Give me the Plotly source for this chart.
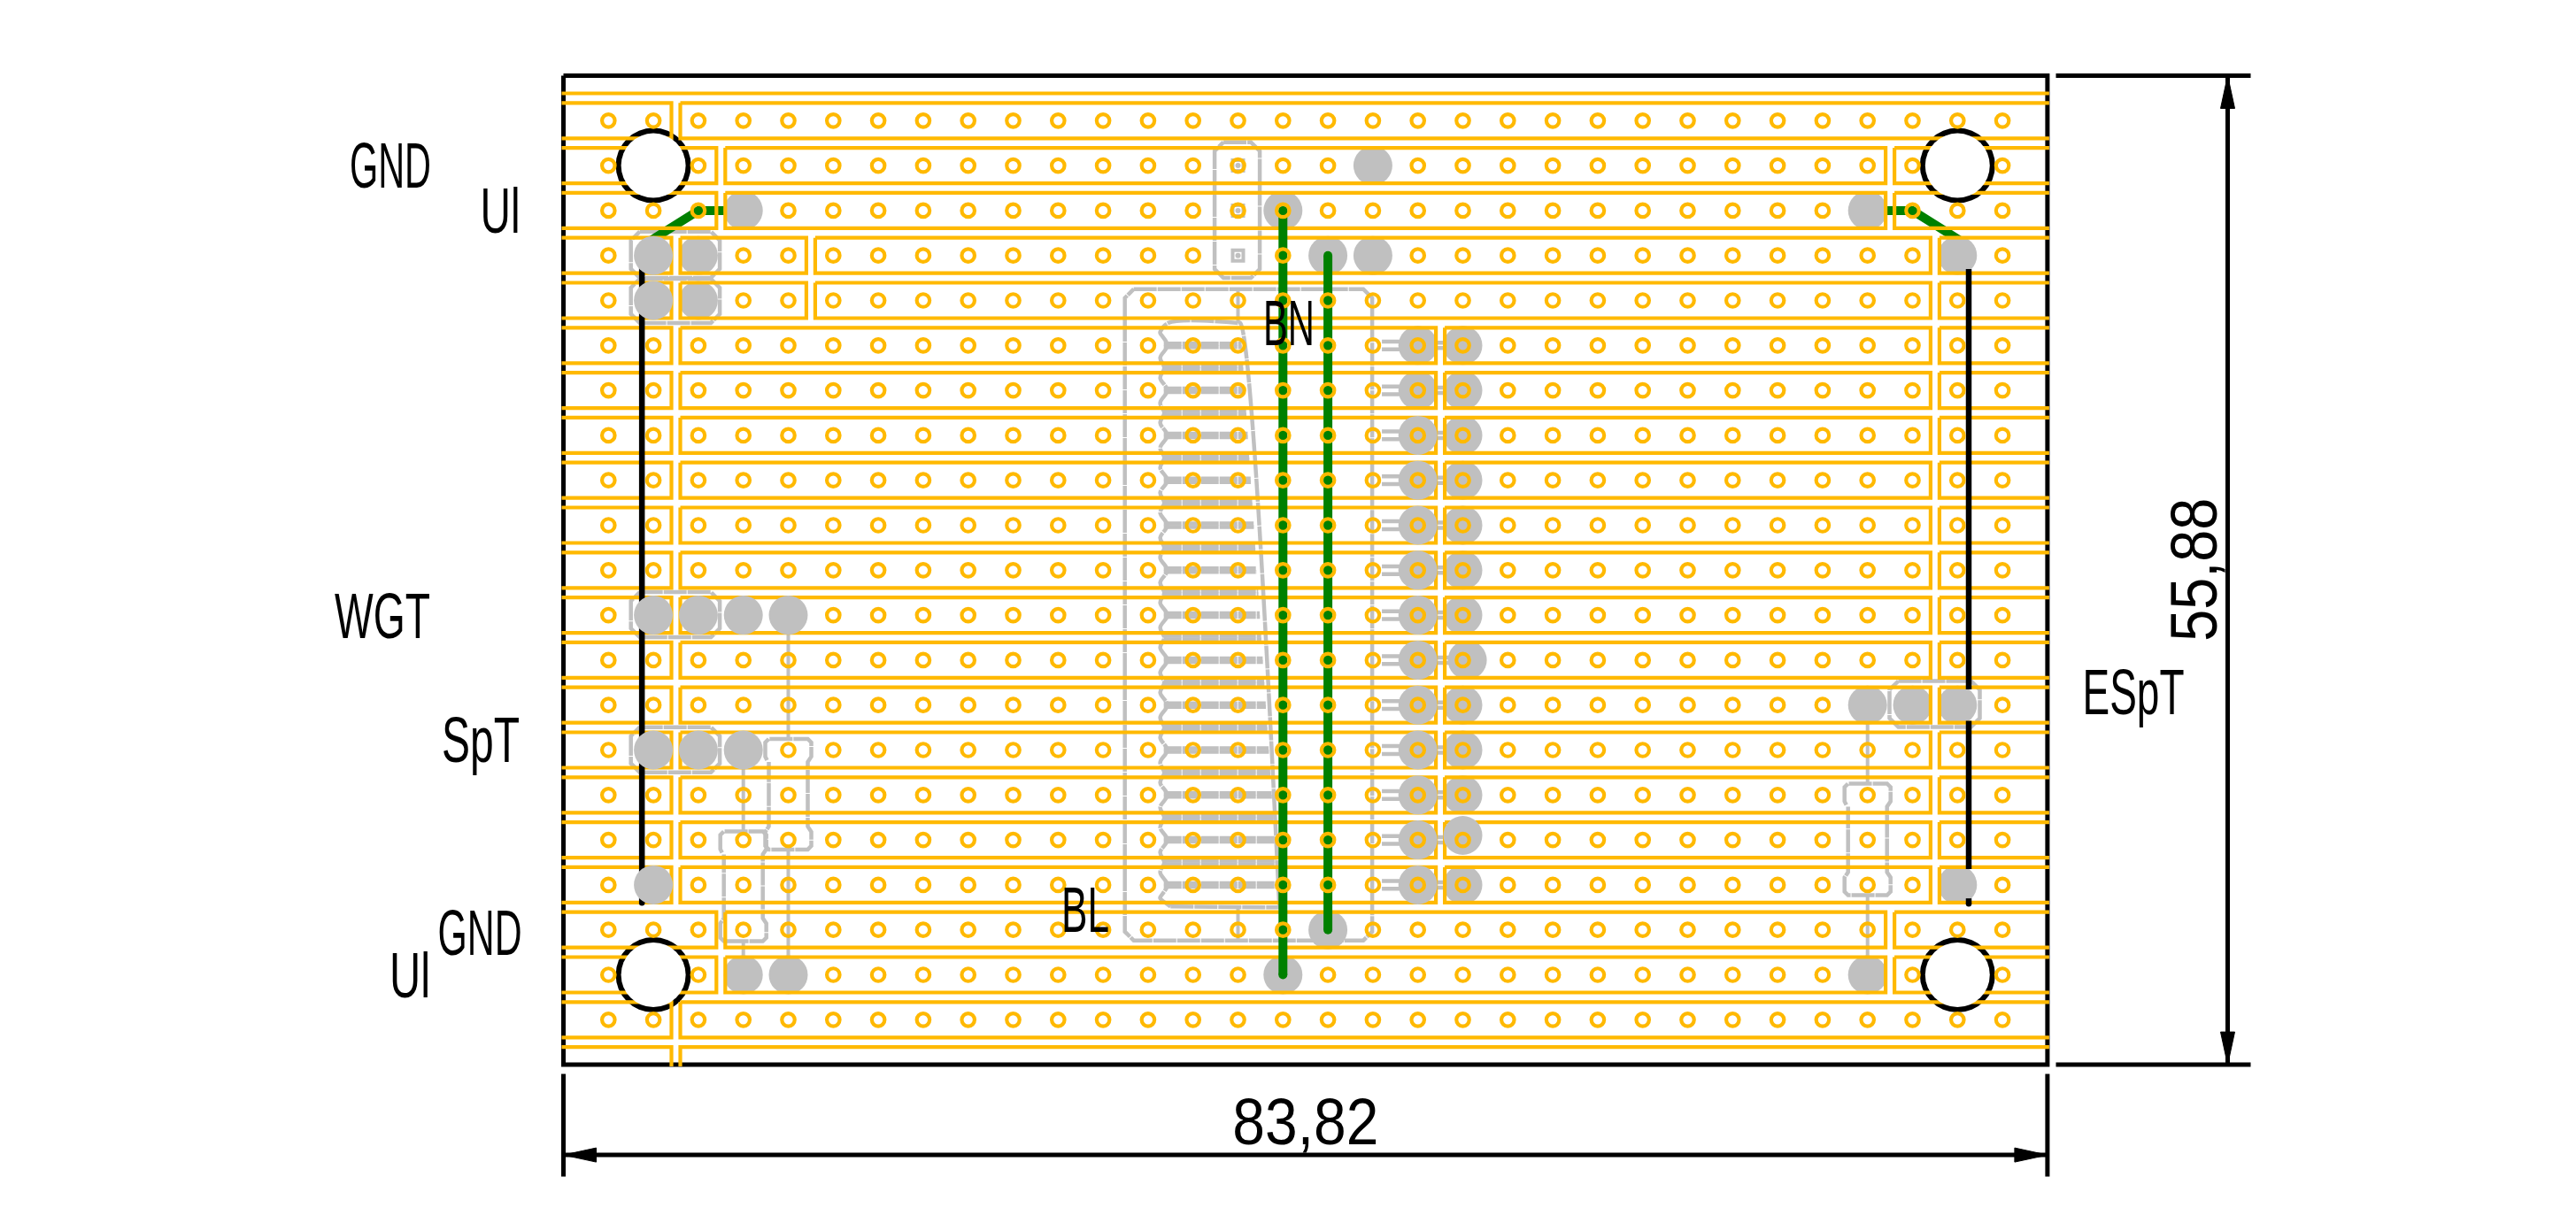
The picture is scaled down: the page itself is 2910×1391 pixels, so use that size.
import json

import plotly.graph_objects as go

# Lochraster board, all sizes in mm (1 mm = 20 px in the picture)
PITCH = 2.54
BOARD_W = 83.82
BOARD_H = 55.88

YELLOW = "#FFB900"
GRAY = "#C0C0C0"
GREEN = "#008000"
FONT = "Liberation Sans"

# cuts in the copper strips, as half-column numbers, row by row
row_gaps = {0: [], 1: [2.5], 2: [3.5, 29.5], 3: [3.5, 29.5], 4: [2.5, 5.5, 30.5], 5: [2.5, 5.5, 30.5],
            19: [3.5, 29.5], 20: [3.5, 29.5], 21: [2.5], 22: [2.5]}
for r in range(6, 19):
    row_gaps[r] = [2.5, 19.5, 30.5]

hole_cols = list(range(1, 33))
hole_rows = list(range(1, 22))
mount_holes = [(2, 2), (31, 2), (2, 20), (31, 20)]

pads_under = [(3, 4), (3, 5), (4, 3), (18, 2), (16, 3), (17, 4), (18, 4), (29, 3), (31, 4),
              (4, 20), (5, 20), (17, 19), (16, 20), (29, 14), (30, 14), (31, 14), (31, 18), (29, 20),
              (19, 6), (19, 7), (20, 6), (20, 7), (20, 8), (20, 9), (20, 10), (20, 11), (20, 12),
              (20.1, 13), (20, 14), (20, 15), (20, 16), (20, 18)]
pads_over = [(2, 4), (2, 5), (2, 12), (3, 12), (4, 12), (5, 12), (2, 15), (3, 15), (4, 15), (2, 18),
             (19, 8), (19, 9), (19, 10), (19, 11), (19, 12), (19, 13), (19, 14), (19, 15), (19, 16),
             (19, 17), (19, 18), (20, 16.9)]
no_hole = [(2, 4), (2, 5), (3, 4), (3, 5), (4, 3), (18, 2), (17, 4), (18, 4), (29, 3), (31, 4), (15, 4),
           (4, 20), (5, 20), (17, 19), (16, 20), (29, 14), (30, 14), (31, 14), (31, 18), (29, 20),
           (2, 12), (3, 12), (4, 12), (5, 12), (2, 15), (3, 15), (4, 15), (2, 18)] + mount_holes

ic_rows = list(range(6, 19))
header_rows = [2, 3, 4]

# jumpers
short_wires = [[(2, 4), (2, 3.63), (3, 3), (4, 3)], [(29, 3), (30, 3), (31, 3.63), (31, 4)]]
long_wires = [[(16, 3), (16, 20)], [(17, 4), (17, 19)]]
black_wires = [[(1.745, 4), (1.745, 18.4)], [(31.25, 4.3), (31.25, 13.65)], [(31.25, 14.35), (31.25, 17.65)],
               [(31.25, 18.3), (31.25, 18.42)]]

# resistors: column, lead start row, body top, body bottom (mm), lead end row
resistor_cols = [5, 4, 29]
resistor_start = [12, 15, 14]
resistor_top = [37.47, 42.7, 40.0]
resistor_bottom = [43.72, 48.9, 46.3]
resistor_end = [20, 20, 20]

# boxes: x0, x1, y0, y1 in mm
boxes = [(3.81, 8.83, 8.81, 11.42), (3.81, 8.83, 11.48, 13.97), (3.81, 8.83, 29.18, 31.73),
         (3.81, 8.83, 36.81, 39.36), (74.9, 80.0, 34.2, 36.8), (36.78, 39.33, 3.76, 11.43),
         (31.71, 45.68, 12.06, 48.86)]

labels = ["GND", "Ul", "WGT", "SpT", "GND", "Ul", "BN", "BL", "ESpT", "83,82", "55,88"]
label_x = [-9.78, -3.58, -10.23, -4.68, -4.73, -8.68, 40.98, 29.48, 88.67, 41.93, 92.1]
label_y = [5.08, 7.63, 30.5, 37.5, 48.4, 50.8, 13.98, 47.1, 34.8, 59.07, 27.93]
label_angle = [0, 0, 0, 0, 0, 0, 0, 0, 0, 0, -90]
label_size = [72, 72, 72, 72, 72, 72, 72, 72, 72, 75, 75]
# CAD lettering is narrower than any installed font, so the widths are forced (px)
label_width = [92, 45, 108, 88, 95, 46, 58, 54, 115, 165, 162]


def pos(p):
    return p[0] * PITCH, p[1] * PITCH


def add_path(xs, ys, pts):
    for p in pts:
        xs.append(p[0])
        ys.append(p[1])
    xs.append(None)
    ys.append(None)


def line_trace(xs, ys, color, width, dash="solid", shape="linear"):
    return go.Scatter(x=xs, y=ys, mode="lines", line=dict(color=color, width=width, dash=dash, shape=shape),
                      hoverinfo="skip")


def pad_trace(pads, size=44, color=GRAY, symbol="circle", lw=0):
    return go.Scatter(x=[pos(p)[0] for p in pads], y=[pos(p)[1] for p in pads], mode="markers",
                      marker=dict(size=size, color=color, symbol=symbol, line=dict(width=lw, color=color)),
                      hoverinfo="skip")


def chamfer(x0, x1, y0, y1, c=0.5):
    return [(x0 + c, y0), (x1 - c, y0), (x1, y0 + c), (x1, y1 - c), (x1 - c, y1), (x0 + c, y1), (x0, y1 - c),
            (x0, y0 + c), (x0 + c, y0)]


# copper strips
sx, sy = [], []
for r, gaps in row_gaps.items():
    y = r * PITCH
    top = None if r == 0 else y - 1.0
    bot = BOARD_H + 0.1 if r == 22 else y + 1.0
    stops = [-0.1] + [g * PITCH for g in gaps] + [BOARD_W + 0.1]
    for i in range(len(stops) - 1):
        a = stops[i] + (0.25 if i > 0 else 0)
        b = stops[i + 1] - (0.25 if i < len(stops) - 2 else 0)
        if r == 0:
            add_path(sx, sy, [(a, bot), (b, bot)])
            continue
        if r == 22:
            pts = [(a, top), (b, top)]
            if i < len(stops) - 2:
                pts.append((b, bot))
            if i > 0:
                pts.insert(0, (a, bot))
            add_path(sx, sy, pts)
            continue
        pts = [(a, top), (b, top)]
        if i < len(stops) - 2:
            pts.append((b, bot))
        else:
            add_path(sx, sy, pts)
            pts = [(b, bot)]
        pts.append((a, bot))
        if i > 0:
            pts.append((a, top))
        add_path(sx, sy, pts)

# grey outlines of the parts
gx, gy = [], []
for b in boxes:
    add_path(gx, gy, chamfer(*b))
for c, s, t, bt, e in zip(resistor_cols, resistor_start, resistor_top, resistor_bottom, resistor_end):
    x = c * PITCH
    add_path(gx, gy, [(x - 1.2, t + 1.2), (x - 1.3, t + 1.0), (x - 1.3, t + 0.2), (x - 1.1, t), (x + 1.1, t),
                      (x + 1.3, t + 0.2), (x + 1.3, t + 1.0), (x + 1.1, t + 1.3), (x + 1.1, bt - 1.3),
                      (x + 1.3, bt - 1.0), (x + 1.3, bt - 0.2), (x + 1.1, bt), (x - 1.1, bt), (x - 1.3, bt - 0.2),
                      (x - 1.3, bt - 1.0), (x - 1.1, bt - 1.3), (x - 1.1, t + 1.3)])

leads_x, leads_y = [], []
for c, s, t, bt, e in zip(resistor_cols, resistor_start, resistor_top, resistor_bottom, resistor_end):
    add_path(leads_x, leads_y, [(c * PITCH, s * PITCH), (c * PITCH, t)])
    add_path(leads_x, leads_y, [(c * PITCH, bt), (c * PITCH, e * PITCH)])
add_path(leads_x, leads_y, [(15 * PITCH, 12.06), (15 * PITCH, 5.5 * PITCH)])
add_path(leads_x, leads_y, [(15 * PITCH, 18.5 * PITCH), (15 * PITCH, 48.86)])


def ic_right(y):
    return (15.05 + (y / PITCH - 5.5) * 0.87 / 13) * PITCH


# heat sink body of the regulator, wavy on the left
ic_x, ic_y = [], []
left = [(15 * PITCH, 5.5 * PITCH), (13.45 * PITCH, 5.5 * PITCH), (13.27 * PITCH, 5.7 * PITCH)]
for r in ic_rows:
    y = r * PITCH
    left += [(13.27 * PITCH, y - 0.7), (13.43 * PITCH, y), (13.27 * PITCH, y + 0.7), (13.36 * PITCH, y + 1.27)]
left = left[:-1] + [(13.27 * PITCH, 18.3 * PITCH), (13.5 * PITCH, 18.48 * PITCH)]
add_path(ic_x, ic_y, left)
add_path(ic_x, ic_y, [(13.5 * PITCH, 18.48 * PITCH), (15.92 * PITCH, 18.5 * PITCH)])
add_path(ic_x, ic_y, [(15.92 * PITCH, 18.5 * PITCH), (15.05 * PITCH, 5.5 * PITCH), (15 * PITCH, 5.5 * PITCH)])

bars_x, bars_y = [], []
for r in ic_rows:
    for half in ([0, 0.5] if r < 18 else [0]):
        y = (r + half) * PITCH
        for d in (-0.1, 0.1):
            add_path(bars_x, bars_y, [(13.35 * PITCH, y + d), (ic_right(y + d), y + d)])
    y = r * PITCH
    for d in (-0.22, 0.22):
        add_path(bars_x, bars_y, [(18.2 * PITCH, y + d), (19 * PITCH, y + d)])
    for d in (-0.15, 0.15):
        add_path(bars_x, bars_y, [(19 * PITCH, y + d), (20 * PITCH, y + d)])

# board edge and dimensions
edge_x = [0, BOARD_W, BOARD_W, 0, 0]
edge_y = [0, 0, BOARD_H, BOARD_H, 0]
dim_x, dim_y = [], []
add_path(dim_x, dim_y, [(0, 56.4), (0, 62.2)])
add_path(dim_x, dim_y, [(BOARD_W, 56.4), (BOARD_W, 62.2)])
add_path(dim_x, dim_y, [(0, 60.98), (BOARD_W, 60.98)])
add_path(dim_x, dim_y, [(84.3, 0), (95.3, 0)])
add_path(dim_x, dim_y, [(84.3, BOARD_H), (95.3, BOARD_H)])
add_path(dim_x, dim_y, [(94.0, 0), (94.0, BOARD_H)])
arrow_x, arrow_y = [], []
add_path(arrow_x, arrow_y, [(0, 60.98), (1.85, 60.58), (1.85, 61.38), (0, 60.98)])
add_path(arrow_x, arrow_y, [(BOARD_W, 60.98), (BOARD_W - 1.85, 60.58), (BOARD_W - 1.85, 61.38), (BOARD_W, 60.98)])
add_path(arrow_x, arrow_y, [(94.0, 0), (93.6, 1.85), (94.4, 1.85), (94.0, 0)])
add_path(arrow_x, arrow_y, [(94.0, BOARD_H), (93.6, BOARD_H - 1.85), (94.4, BOARD_H - 1.85), (94.0, BOARD_H)])

holes = [(c, r) for r in hole_rows for c in hole_cols if (c, r) not in no_hole]

fig = go.Figure()
fig.add_trace(line_trace(edge_x, edge_y, "black", 5))
fig.add_trace(pad_trace(mount_holes, size=85, color="black"))
fig.add_trace(line_trace(gx, gy, GRAY, 4.5, dash="26px,1px"))
fig.add_trace(line_trace(ic_x, ic_y, GRAY, 4.5, dash="26px,1px", shape="spline"))
fig.add_trace(line_trace(bars_x, bars_y, GRAY, 4.5, dash="20px,1px"))
fig.add_trace(line_trace(leads_x, leads_y, GRAY, 4))
fig.add_trace(pad_trace([(15, r) for r in header_rows], size=12, symbol="square-open", lw=4))
fig.add_trace(pad_trace([(15, r) for r in header_rows], size=6))

swx, swy = [], []
for w in short_wires:
    add_path(swx, swy, [pos(p) for p in w])
fig.add_trace(line_trace(swx, swy, GREEN, 10))
fig.add_trace(pad_trace(pads_under))
fig.add_trace(line_trace(sx, sy, YELLOW, 4.2))
fig.add_trace(pad_trace(mount_holes, size=73, color="white"))

bx, by = [], []
for w in black_wires:
    add_path(bx, by, [pos(p) for p in w])
fig.add_trace(line_trace(bx, by, "black", 6.5))
fig.add_trace(pad_trace([black_wires[0][1], black_wires[3][1]], size=6.5, color="black"))
fig.add_trace(pad_trace(pads_over))

wx, wy = [], []
ends = []
for w in long_wires:
    add_path(wx, wy, [pos(p) for p in w])
    ends += [w[0], w[-1]]
fig.add_trace(line_trace(wx, wy, GREEN, 10))
fig.add_trace(pad_trace(ends, size=10, color=GREEN))
fig.add_trace(pad_trace(holes, size=14.5, color=YELLOW, symbol="circle-open", lw=4.2))

fig.add_trace(line_trace(dim_x, dim_y, "black", 5))
fig.add_trace(go.Scatter(x=arrow_x, y=arrow_y, mode="lines", fill="toself", fillcolor="black",
                         line=dict(color="black", width=1), hoverinfo="skip"))

for t, x, y, a, s in zip(labels, label_x, label_y, label_angle, label_size):
    fig.add_annotation(x=x, y=y, text=t, textangle=a, showarrow=False, xanchor="center", yanchor="middle",
                       font=dict(family=FONT, size=s, color="black"))

# the page has an 8 px margin around the plot
fig.update_layout(
    width=2894, height=1375,
    margin=dict(l=0, r=0, t=0, b=0),
    paper_bgcolor="white", plot_bgcolor="white",
    showlegend=False,
    xaxis=dict(visible=False, range=[(8 - 636.5) / 20, (2902 - 636.5) / 20]),
    yaxis=dict(visible=False, range=[(1383 - 85.5) / 20, (8 - 85.5) / 20]),
)

squeeze = """
var widths = %s;
document.querySelectorAll('.annotation-text').forEach(function (el, i) {
    el.setAttribute('textLength', widths[i]);
    el.setAttribute('lengthAdjust', 'spacingAndGlyphs');
});
""" % json.dumps(label_width)

fig.write_html("out.html", post_script=squeeze)
